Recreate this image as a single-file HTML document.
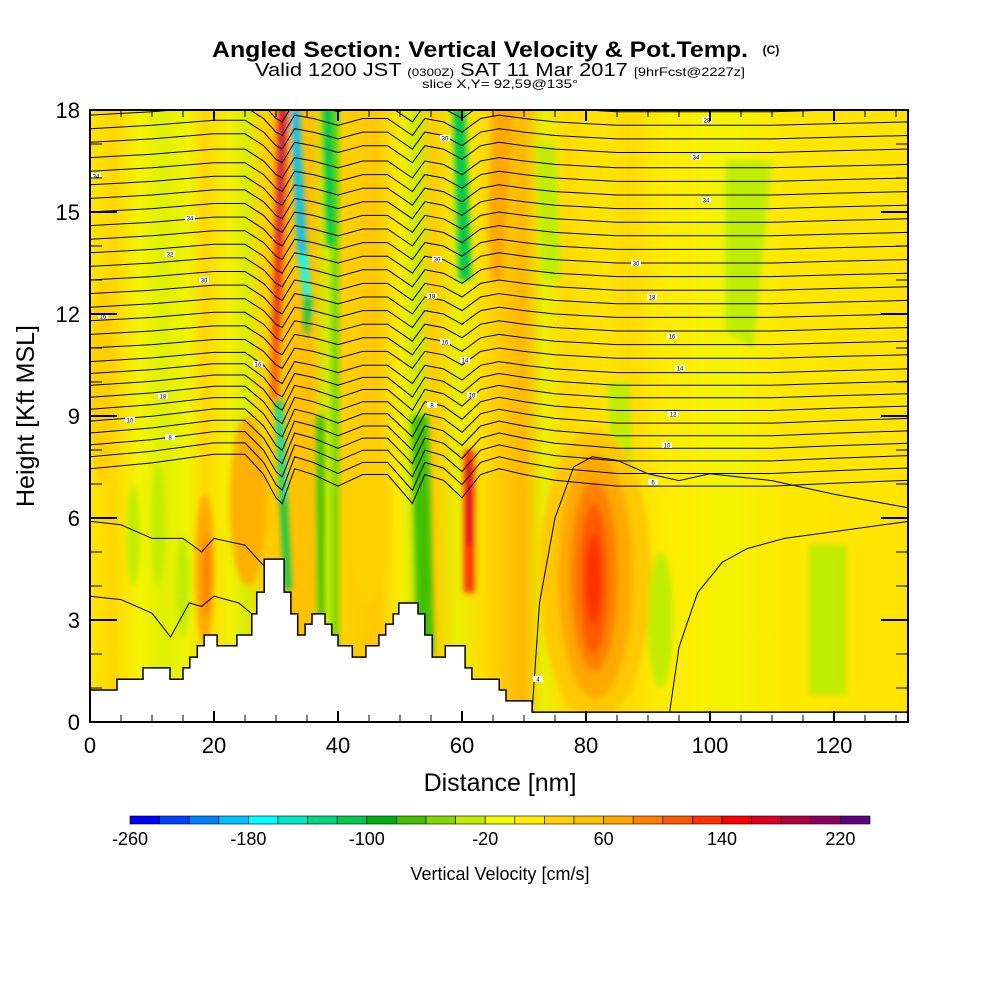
<!DOCTYPE html>
<html><head><meta charset="utf-8"><style>
html,body{margin:0;padding:0;background:#fff;}
svg{display:block;font-family:"Liberation Sans",Arial,sans-serif;}
</style></head><body>
<svg id="chart" width="1000" height="1000" viewBox="0 0 1000 1000">
<defs>
<linearGradient id="baseGrad" x1="90" x2="908" y1="0" y2="0" gradientUnits="userSpaceOnUse">
<stop offset="0" stop-color="#ffe400"/>
<stop offset="0.03" stop-color="#ffd800"/>
<stop offset="0.06" stop-color="#f4f400"/>
<stop offset="0.09" stop-color="#e0f000"/>
<stop offset="0.12" stop-color="#f0f400"/>
<stop offset="0.14" stop-color="#ffd800"/>
<stop offset="0.17" stop-color="#f4f000"/>
<stop offset="0.19" stop-color="#d8ee00"/>
<stop offset="0.215" stop-color="#ffd000"/>
<stop offset="0.235" stop-color="#ffc400"/>
<stop offset="0.27" stop-color="#ffc000"/>
<stop offset="0.29" stop-color="#d0ec00"/>
<stop offset="0.30" stop-color="#80d800"/>
<stop offset="0.31" stop-color="#ffd000"/>
<stop offset="0.35" stop-color="#ffc800"/>
<stop offset="0.38" stop-color="#f8ee00"/>
<stop offset="0.40" stop-color="#c8ea00"/>
<stop offset="0.42" stop-color="#ffcc00"/>
<stop offset="0.45" stop-color="#e8f000"/>
<stop offset="0.48" stop-color="#ffdc00"/>
<stop offset="0.50" stop-color="#ffcc00"/>
<stop offset="0.53" stop-color="#ffb800"/>
<stop offset="0.555" stop-color="#e8f000"/>
<stop offset="0.58" stop-color="#ffdc00"/>
<stop offset="0.63" stop-color="#ffe400"/>
<stop offset="0.66" stop-color="#ffdc00"/>
<stop offset="0.70" stop-color="#ffec00"/>
<stop offset="0.78" stop-color="#f4f400"/>
<stop offset="0.85" stop-color="#ffe800"/>
<stop offset="1" stop-color="#ffe400"/>
</linearGradient>
<filter id="soft" x="-10%" y="-10%" width="120%" height="120%"><feGaussianBlur stdDeviation="3"/></filter>
<clipPath id="plotClip"><rect x="90" y="110" width="818" height="612"/></clipPath>
</defs>

<g>
<text x="480" y="57" text-anchor="middle" font-size="22" font-weight="bold" textLength="536" lengthAdjust="spacingAndGlyphs">Angled Section: Vertical Velocity &amp; Pot.Temp.</text>
<text x="771" y="54" text-anchor="middle" font-size="12" font-weight="bold">(C)</text>
<text x="500" y="76" text-anchor="middle" font-size="18" textLength="490" lengthAdjust="spacingAndGlyphs">Valid 1200 JST <tspan font-size="11">(0300Z)</tspan> SAT 11 Mar 2017 <tspan font-size="12">[9hrFcst@2227z]</tspan></text>
<text x="500" y="88" text-anchor="middle" font-size="12" textLength="156" lengthAdjust="spacingAndGlyphs">slice X,Y= 92,59@135°</text>
</g>

<g clip-path="url(#plotClip)">
<rect x="90" y="110" width="818" height="612" fill="url(#baseGrad)"/>
<g id="field" filter="url(#soft)"></g>
<g id="contours" fill="none" stroke="#000" stroke-width="1"></g>
<path id="terrain" fill="#fff" stroke="#000" stroke-width="1.5"/>
<g id="clabels"></g>
</g>
<rect x="90" y="110" width="818" height="612" fill="none" stroke="#000" stroke-width="2"/>
<g id="ticks" stroke="#000"></g>
<g id="xlabels" font-size="22" text-anchor="middle"></g>
<g id="ylabels" font-size="22" text-anchor="end"></g>
<text x="500" y="791" text-anchor="middle" font-size="25">Distance [nm]</text>
<text transform="translate(34,416) rotate(-90)" text-anchor="middle" font-size="25">Height [Kft MSL]</text>
<g id="colorbar"></g>
<g id="cblabels" font-size="18" text-anchor="middle"></g>
<text x="500" y="880" text-anchor="middle" font-size="18">Vertical Velocity [cm/s]</text>
</svg>
<script>
// ---- data arrays ----
const xTicks = [0,20,40,60,80,100,120];
const yTicks = [0,3,6,9,12,15,18];
const terrainDist = [0,4.35,8.55,12.9,15.0,16.1,17.3,18.4,20.5,23.7,26.1,26.9,28.1,31.3,32.4,33.5,34.7,35.8,37.9,39.0,40.0,42.3,44.5,46.6,47.7,48.9,49.8,52.9,54.0,55.2,57.3,60.5,61.6,66.0,67.1,71.3];
const terrainHeight = [0.94,1.26,1.59,1.26,1.59,1.91,2.24,2.56,2.24,2.56,3.18,3.82,4.79,3.82,3.18,2.56,2.88,3.18,2.88,2.56,2.24,1.91,2.24,2.56,2.88,3.18,3.5,3.18,2.56,1.91,2.24,1.59,1.26,0.94,0.62,0.29];
const waveDist = [0,10,20,25,28,30,31,33,36,40,44,48,52,54,57,60,63,66,70,75,80,85,90,95,100,110,120,132];
const waveOffset = [0,0.1,0.25,0.25,-0.1,-0.5,-0.6,0,-0.1,-0.3,-0.1,-0.1,-0.6,-0.1,-0.2,-0.5,-0.1,0,-0.1,-0.2,-0.25,-0.3,-0.3,-0.3,-0.3,-0.3,-0.25,-0.2];
const thetaLevels = [18.65,18.25,17.85,17.45,17.05,16.6,16.2,15.8,15.4,15.0,14.6,14.2,13.8,13.4,13.0,12.6,12.2,11.8,11.4,11.0,10.6,10.25,9.9,9.55,9.2,8.85,8.5,8.15,7.8,7.45];
const lowLineA_d = [0,5,10,15,18,20,25,28,30];
const lowLineA_h = [5.9,5.8,5.4,5.4,5.0,5.4,5.2,4.6,4.0];
const lowLineB_d = [0,5,10,13,16,18,20,24,26];
const lowLineB_h = [3.7,3.6,3.2,2.5,3.5,3.4,3.7,3.5,3.2];
const archLine_d = [71.3,72.5,75,78,81,85,90,95,100,110,120,132];
const archLine_h = [0.3,3.5,6.0,7.5,7.8,7.7,7.3,7.1,7.3,7.1,6.7,6.3];
const rightLine_d = [93.5,95,98,102,106,112,120,132];
const rightLine_h = [0.3,2.2,3.8,4.7,5.1,5.4,5.6,5.9];
const cbValues = [-260,-240,-220,-200,-180,-160,-140,-120,-100,-80,-60,-40,-20,0,20,40,60,80,100,120,140,160,180,200,220,240];
const cbColors = ["#0000ff","#0040ff","#0080ff","#00c0ff","#00ffff","#00e8c8","#00d880","#00c850","#00b010","#40c000","#80d800","#c0ec00","#f0ff00","#ffec00","#ffd000","#ffc000","#ffa800","#ff8000","#ff5800","#ff3000","#ff0000","#e00020","#b00040","#900060","#600080"];
const cbLabels = [-260,-180,-100,-20,60,140,220];

// ---- scales ----
const X = d => 90 + d*6.2;
const Y = h => 722 - h*34;
const NS = "http://www.w3.org/2000/svg";
function mk(tag, parent){ const e=document.createElementNS(NS,tag); parent.appendChild(e); return e; }

const field = document.getElementById('field');
const features = [
 ["#ff5800",[[30.2,18.2],[32.2,18.2],[30.3,9.4],[29.2,9.6]]],
 ["#e00020",[[30.6,18.2],[31.7,18.2],[30.2,11],[29.7,11.5]]],
 ["#900060",[[31.0,18.2],[31.5,18.2],[30.4,14],[30.2,14.5]]],
 ["#00c0ff",[[32.3,18.2],[33.7,18.2],[35.0,13.5],[33.6,13.5]]],
 ["#00ffff",[[33.6,13.8],[35.0,13.8],[35.8,12],[34.8,12]]],
 ["#00c850",[[34.6,12.5],[35.8,12.5],[35.2,11.3],[34.5,11.6]]],
 ["#00c850",[[29.8,9.5],[31.0,9.5],[32.5,3.9],[31.4,3.9]]],
 ["#00e8c8",[[30.1,9.3],[30.7,9.3],[31.8,6.5],[31.2,6.5]]],
 ["#00c850",[[37.5,18.2],[39.2,18.2],[39.5,14],[38.2,14]]],
 ["#40c000",[[36.5,9],[37.8,9],[37.8,3.1],[36.8,3.1]]],
 ["#00b010",[[52.5,7.5],[53.8,7.5],[55.0,2.0],[53.8,2.0]]],
 ["#40c000",[[51.8,9],[54.6,9],[55.5,2],[52.8,2]]],
 ["#00c850",[[58.5,18.2],[60.5,18.2],[61.5,13],[59.5,13]]],
 ["#ff3000",[[60.3,8.0],[62.0,8.0],[62.0,3.8],[60.3,3.8]]],
 ["#e00020",[[60.7,7.6],[61.6,7.6],[61.6,5.2],[60.7,5.2]]],
 ["#ffa800",[[65.6,18.2],[68.5,18.2],[66.5,13],[64.5,13]]],
 ["#ffa800",[[65.0,18.2],[67.0,18.2],[65.5,14],[64.2,14]]],
 ["#c0ec00",[[72,17],[75,17],[76,13],[73,13]]],
 ["#c0ec00",[[83.5,10],[87,10],[88,5],[85,5]]],
 ["#c0ec00",[[102.5,16.5],[110,16.5],[107,11],[102.5,11.5]]],
 ["#c0ec00",[[116,5.2],[122,5.2],[122,0.8],[116,0.8]]]
];
features.forEach(f=>{
  const p = mk('polygon', field);
  
  
  p.setAttribute('fill', f[0]);
  p.setAttribute('points', f[1].map(q=>X(q[0])+','+Y(q[1])).join(' '));
});
const blobs = [
 ["#ffc800",81.5,4.3,9,4.3],["#ffa800",81.5,4.3,6,3.6],["#ff8000",81.3,4.3,3.8,2.8],["#ff5800",81.2,4.2,2.3,2.2],["#ff3000",81.2,4.2,1.3,1.3],
 ["#ffb000",25.5,6.5,3,2.5],["#ffa800",18.5,4.5,1.5,2.2],["#ff8000",18.8,4.3,0.7,1.2],
 ["#c0ec00",7,5.5,1,1.5],["#c0ec00",11,5.8,1,1.8],["#c0ec00",15,4,1.1,1.5],
 ["#ffd000",45,6,3,2.5],["#ffd000",2,10,2,3],["#c0ec00",92,3,2,2]
];
blobs.forEach(b=>{
  const e = mk('ellipse', field);
  
  
  e.setAttribute('fill', b[0]);
  e.setAttribute('cx', X(b[1])); e.setAttribute('cy', Y(b[2]));
  e.setAttribute('rx', b[3]*6.2); e.setAttribute('ry', b[4]*34);
});

const cg = document.getElementById('contours');
function poly(ds, hs, name){
  const p = mk('path', cg);
  
  
  p.setAttribute('d', ds.map((d,i)=>(i?'L':'M')+X(d).toFixed(1)+','+Y(hs[i]).toFixed(1)).join(''));
}
thetaLevels.forEach((L,k)=>{
  const amp = L > 11 ? 1 : 1 + (11-L)*0.2;
  poly(waveDist, waveDist.map((d,i)=>L + waveOffset[i]*amp), 'theta-contour');
});
poly(lowLineA_d, lowLineA_h, 'theta-contour-low');
poly(lowLineB_d, lowLineB_h, 'theta-contour-low');
poly(archLine_d, archLine_h, 'theta-contour-arch');
poly(rightLine_d, rightLine_h, 'theta-contour-right');

let td = 'M'+X(0)+','+Y(0)+' ';
terrainDist.forEach((d,i)=>{
  const next = i+1<terrainDist.length ? terrainDist[i+1] : 132;
  td += 'L'+X(d).toFixed(1)+','+Y(terrainHeight[i]).toFixed(1)+' L'+X(next).toFixed(1)+','+Y(terrainHeight[i]).toFixed(1)+' ';
});
td += 'L'+X(132)+','+Y(0)+' Z';
document.getElementById('terrain').setAttribute('d', td);

const tg = document.getElementById('ticks');
function line(x1,y1,x2,y2,w,name){
  const l = mk('line', tg);
  
  
  l.setAttribute('x1',x1);l.setAttribute('y1',y1);l.setAttribute('x2',x2);l.setAttribute('y2',y2);l.setAttribute('stroke-width',w);
}
for(let d=0; d<=130; d+=5){
  const major = d%20===0, len = major?11:7;
  line(X(d),722,X(d),722-len,major?2:1,'x-tick');
  line(X(d),110,X(d),110+len,major?2:1,'x-tick-top');
}
for(let h=0; h<=18; h+=1){
  const major = h%3===0, len = major?27:12;
  line(90,Y(h),90+len,Y(h),major?2:1,'y-tick');
  line(908,Y(h),908-len,Y(h),major?2:1,'y-tick-right');
}
const xl = document.getElementById('xlabels');
xTicks.forEach(v=>{ const t=mk('text',xl);   t.setAttribute('x',X(v)); t.setAttribute('y',753); t.textContent=v; });
const yl = document.getElementById('ylabels');
yTicks.forEach(v=>{ const t=mk('text',yl);   t.setAttribute('x',80); t.setAttribute('y',Y(v)+8); t.textContent=v; });

const lg = document.getElementById('clabels');
const cl = [[96,176,'34'],[190,218,'34'],[170,254,'32'],[204,280,'30'],[103,316,'16'],[258,364,'16'],[163,396,'18'],[130,420,'10'],[170,437,'8'],[445,138,'30'],[696,157,'34'],[706,200,'34'],[437,259,'30'],[432,296,'18'],[445,342,'16'],[465,360,'14'],[472,395,'10'],[432,405,'8'],[636,263,'30'],[652,297,'18'],[672,336,'16'],[680,368,'14'],[673,414,'12'],[667,445,'10'],[653,482,'6'],[538,679,'4'],[707,120,'28']];
cl.forEach(c=>{
  const r=mk('rect',lg);  
  r.setAttribute('x',c[0]-5); r.setAttribute('y',c[1]-3); r.setAttribute('width',10); r.setAttribute('height',6); r.setAttribute('fill','#fff');
  const t=mk('text',lg);  
  t.setAttribute('x',c[0]); t.setAttribute('y',c[1]+2.5); t.setAttribute('font-size','6'); t.setAttribute('text-anchor','middle'); t.textContent=c[2];
});

const cb = document.getElementById('colorbar');
const cbX = v => 130 + (v+260)/20*29.6;
cbColors.forEach((c,i)=>{
  const r=mk('rect',cb);  
  r.setAttribute('x',cbX(cbValues[i])); r.setAttribute('y',816); r.setAttribute('width',29.6); r.setAttribute('height',8);
  r.setAttribute('fill',c); r.setAttribute('stroke','#000'); r.setAttribute('stroke-width','0.6');
});
const cbl = document.getElementById('cblabels');
cbLabels.forEach(v=>{ const t=mk('text',cbl);   t.setAttribute('x',cbX(v)); t.setAttribute('y',845); t.textContent=v; });
</script>
</body></html>
